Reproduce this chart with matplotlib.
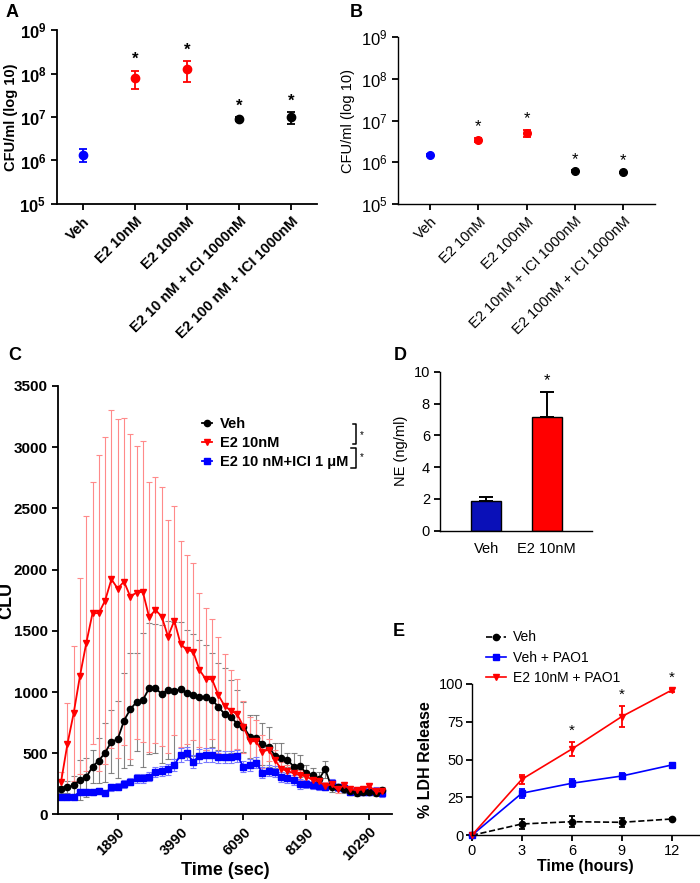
import numpy as np
import matplotlib
matplotlib.use('Agg')
import matplotlib.pyplot as plt
from matplotlib.ticker import NullLocator
from matplotlib.lines import Line2D

plt.rcParams['font.family'] = ['Liberation Sans', 'DejaVu Sans']
plt.rcParams['mathtext.fontset'] = 'custom'
plt.rcParams['mathtext.rm'] = 'Liberation Sans'
plt.rcParams['mathtext.bf'] = 'Liberation Sans:bold'
plt.rcParams['axes.linewidth'] = 1.3
plt.rcParams['xtick.major.width'] = 1.3
plt.rcParams['ytick.major.width'] = 1.3
plt.rcParams['xtick.major.size'] = 4
plt.rcParams['ytick.major.size'] = 4

# ---- panel A / B data: CFU/ml
groups_a = ['Veh', 'E2 10nM', 'E2 100nM', 'E2 10 nM + ICI 1000nM', 'E2 100 nM + ICI 1000nM']
cfu_a = [1.34e6, 7.8e7, 1.25e8, 9.0e6, 9.8e6]
cfu_a_lo = [0.91e6, 4.5e7, 6.3e7, 8.0e6, 6.8e6]
cfu_a_hi = [1.8e6, 1.15e8, 1.9e8, 1.0e7, 1.3e7]

groups_b = ['Veh', 'E2 10nM', 'E2 100nM', 'E2 10nM + ICI 1000nM', 'E2 100nM + ICI 1000nM']
cfu_b = [1.5e6, 3.5e6, 5.0e6, 6.2e5, 5.8e5]
cfu_b_lo = [1.45e6, 3.1e6, 4.1e6, 6.0e5, 5.6e5]
cfu_b_hi = [1.55e6, 3.9e6, 6.0e6, 6.4e5, 6.0e5]

group_colors = ['#0000FF', '#FF0000', '#FF0000', 'black', 'black']
group_star = [False, True, True, True, True]

# ---- panel C data: CLU over time
time_c = np.arange(0, 10711, 210)
veh_c = [206, 222, 238, 282, 304, 391, 440, 505, 595, 614,
         766, 859, 919, 935, 1031, 1031, 984, 1017, 1010, 1023,
         990, 976, 962, 957, 935, 881, 819, 799, 739, 717,
         636, 627, 574, 554, 481, 464, 445, 391, 396, 336,
         323, 288, 370, 222, 222, 204, 188, 173, 180, 180,
         173, 196]
veh_c_sem = [30, 50, 80, 160, 160, 136, 183, 240, 259, 316,
             388, 458, 400, 550, 536, 525, 560, 560, 560, 550,
             520, 500, 464, 428, 382, 354, 375, 300, 278, 205,
             177, 185, 171, 163, 101, 118, 55, 109, 90, 70,
             60, 60, 70, 40, 30, 30, 25, 25, 25, 25,
             25, 25]
e2_c = [268, 574, 827, 1131, 1399, 1644, 1644, 1747, 1921, 1845,
        1902, 1780, 1812, 1818, 1611, 1671, 1616, 1453, 1583, 1393,
        1344, 1330, 1181, 1105, 1105, 976, 886, 848, 819, 717,
        598, 598, 513, 530, 445, 372, 355, 336, 322, 310,
        282, 270, 233, 245, 204, 240, 204, 200, 204, 233,
        188, 188]
e2_c_sem = [80, 340, 550, 800, 1040, 1067, 1290, 1335, 1378, 1384,
            1335, 1326, 1193, 1228, 1100, 1084, 1057, 953, 932, 841,
            771, 722, 631, 580, 492, 477, 425, 333, 286, 213,
            200, 170, 137, 90, 80, 60, 50, 50, 40, 40,
            30, 30, 30, 25, 25, 25, 25, 25, 25, 25,
            25, 25]
ici_c = [146, 146, 146, 187, 187, 182, 190, 173, 222, 227,
         249, 268, 296, 296, 309, 350, 358, 369, 404, 486,
         500, 431, 478, 486, 486, 472, 467, 472, 478, 391,
         404, 423, 342, 358, 350, 309, 296, 282, 249, 249,
         241, 233, 227, 260, 222, 214, 187, 195, 187, 187,
         195, 173]
ici_c_sem = [20, 20, 20, 25, 25, 25, 25, 25, 30, 30,
             30, 30, 35, 35, 35, 40, 40, 45, 50, 55,
             55, 55, 55, 55, 55, 50, 50, 50, 50, 45,
             45, 45, 45, 45, 45, 40, 40, 40, 40, 35,
             35, 35, 30, 30, 30, 30, 30, 30, 30, 30,
             30, 30]
c_ticks = [1890, 3990, 6090, 8190, 10290]

# ---- panel D data: NE
ne_groups = ['Veh', 'E2 10nM']
ne_vals = [1.85, 7.15]
ne_err = [0.27, 1.6]
ne_colors = ['#0A10B8', '#FF0000']

# ---- panel E data: LDH release
hours = [0, 3, 6, 9, 12]
ldh_veh = [0, 7.5, 9.0, 8.6, 10.8]
ldh_veh_err = [0, 3.5, 3.5, 3.0, 0.8]
ldh_pao = [0, 27.8, 34.4, 39.2, 46.5]
ldh_pao_err = [0, 3.0, 2.5, 2.2, 1.0]
ldh_e2 = [0, 37, 57, 78.5, 96]
ldh_e2_err = [0, 3.0, 4.7, 7.0, 1.0]
ldh_star = [False, False, True, True, True]

fig = plt.figure(figsize=(7, 8.83), dpi=100)


def prism(ax):
    ax.spines['top'].set_visible(False)
    ax.spines['right'].set_visible(False)
    ax.tick_params(direction='out')


def cfu_panel(ax, groups, vals, lo, hi, bold, xlim, ms, fs):
    w = 'bold' if bold else 'normal'
    x = np.arange(len(groups))
    for i in range(len(groups)):
        ax.errorbar(x[i], vals[i], yerr=[[vals[i] - lo[i]], [hi[i] - vals[i]]],
                    fmt='o', color=group_colors[i], ms=ms, capsize=3.2,
                    elinewidth=1.3, capthick=1.3)
        if group_star[i]:
            ax.annotate('*', (x[i], hi[i]), xytext=(0, 8), textcoords='offset points',
                        ha='center', va='center', fontsize=12, fontweight=w)
    ax.set_yscale('log')
    ax.set_ylim(1e5, 1e9)
    ax.set_xlim(*xlim)
    ticks = [1e5, 1e6, 1e7, 1e8, 1e9]
    ax.set_yticks(ticks)
    ax.yaxis.set_minor_locator(NullLocator())
    if bold:
        ax.set_yticklabels([r'$\mathbf{10^{%d}}$' % int(np.log10(t)) for t in ticks])
    else:
        ax.set_yticklabels([r'$\mathrm{10^{%d}}$' % int(np.log10(t)) for t in ticks])
    ax.tick_params(axis='y', labelsize=12)
    ax.set_xticks(x)
    ax.set_xticklabels(groups, rotation=45, ha='right', rotation_mode='anchor',
                       fontsize=fs, fontweight=w)
    ax.set_ylabel('CFU/ml (log 10)', fontsize=fs, fontweight=w)
    prism(ax)


# A
axA = fig.add_axes([0.081, 0.769, 0.372, 0.197])
cfu_panel(axA, groups_a, cfu_a, cfu_a_lo, cfu_a_hi, True, (-0.5, 4.5), 6, 10.5)
axA.yaxis.set_label_coords(-0.15, 0.5)

# B
axB = fig.add_axes([0.568, 0.769, 0.368, 0.189])
cfu_panel(axB, groups_b, cfu_b, cfu_b_lo, cfu_b_hi, False, (-0.67, 4.66), 5.5, 10.5)
axB.spines['left'].set_linewidth(1.0)
axB.spines['bottom'].set_linewidth(1.0)

# C
axC = fig.add_axes([0.083, 0.0776, 0.477, 0.4854])
axC.errorbar(time_c, veh_c, yerr=veh_c_sem, fmt='none', ecolor='#6e6e6e',
             elinewidth=0.8, capsize=2.2, capthick=0.8, alpha=0.85)
axC.errorbar(time_c, e2_c, yerr=e2_c_sem, fmt='none', ecolor='#ff8a8a',
             elinewidth=0.8, capsize=2.2, capthick=0.8)
axC.errorbar(time_c, ici_c, yerr=ici_c_sem, fmt='none', ecolor='#7a7aff',
             elinewidth=0.8, capsize=2.2, capthick=0.8)
axC.plot(time_c, ici_c, color='#0000FF', marker='s', ms=3.8, lw=1.3)
axC.plot(time_c, veh_c, color='black', marker='o', ms=4.5, lw=1.3)
axC.plot(time_c, e2_c, color='#FF0000', marker='v', ms=5, lw=1.3)
axC.set_xlim(-100, 11050)
axC.set_ylim(0, 3500)
axC.set_yticks(np.arange(0, 3501, 500))
axC.set_xticks(c_ticks)
axC.set_xticklabels([str(t) for t in c_ticks], rotation=45, ha='right',
                    rotation_mode='anchor', fontsize=10.5, fontweight='bold')
for lab in axC.get_yticklabels():
    lab.set_fontweight('bold')
    lab.set_fontsize(11)
axC.set_xlabel('Time (sec)', fontsize=13, fontweight='bold', va='top')
axC.xaxis.set_label_coords(0.5, -0.11)
axC.set_ylabel('CLU', fontsize=13, fontweight='bold')
axC.yaxis.set_label_coords(-0.128, 0.5)
prism(axC)
hC = [Line2D([], [], color='black', marker='o', ms=4.5, lw=1.3),
      Line2D([], [], color='#FF0000', marker='v', ms=5, lw=1.3),
      Line2D([], [], color='#0000FF', marker='s', ms=3.8, lw=1.3)]
axC.legend(hC, ['Veh', 'E2 10nM', 'E2 10 nM+ICI 1 \u03bcM'], loc='upper left',
           bbox_to_anchor=(0.41, 0.945), frameon=False, handlelength=0.7,
           handletextpad=0.5, labelspacing=0.35, borderpad=0,
           prop={'weight': 'bold', 'size': 10.5})
# significance brackets
for (x0, y0, y1, ys) in [(0.883, 0.911, 0.865, 0.886), (0.877, 0.855, 0.808, 0.834)]:
    axC.plot([x0, 0.892, 0.892, x0], [y0, y0, y1, y1], color='black', lw=1.1,
             transform=axC.transAxes, clip_on=False)
    axC.text(0.905, ys, '*', transform=axC.transAxes, fontsize=7,
             ha='left', va='center')

# D
axD = fig.add_axes([0.629, 0.399, 0.217, 0.180])
xd = np.arange(len(ne_groups))
axD.bar(xd, ne_vals, width=0.5, color=ne_colors, edgecolor='black', linewidth=1.0,
        yerr=[[0, 0], ne_err], capsize=5, error_kw={'elinewidth': 1.4, 'capthick': 1.4})
axD.annotate('*', (xd[1], ne_vals[1] + ne_err[1]), xytext=(0, 8),
             textcoords='offset points', ha='center', va='center', fontsize=12)
axD.set_xlim(-0.76, 1.75)
axD.set_ylim(0, 10)
axD.set_yticks(range(0, 11, 2))
axD.set_xticks(xd)
axD.set_xticklabels(ne_groups, fontsize=10.5)
axD.tick_params(axis='x', length=0, pad=8)
axD.tick_params(axis='y', labelsize=10.5)
axD.set_ylabel('NE (ng/ml)', fontsize=10.5)
axD.spines['left'].set_linewidth(1.0)
axD.spines['bottom'].set_linewidth(1.0)
prism(axD)

# E
axE = fig.add_axes([0.674, 0.054, 0.324, 0.1714])
axE.errorbar(hours, ldh_veh, yerr=ldh_veh_err, color='black', ls='--', marker='o',
             ms=4.5, lw=1.2, capsize=2.5, elinewidth=1.3, capthick=1.3, clip_on=False)
axE.errorbar(hours, ldh_pao, yerr=ldh_pao_err, color='#0000FF', marker='s',
             ms=4, lw=1.2, capsize=2.5, elinewidth=1.3, capthick=1.3, clip_on=False)
axE.errorbar(hours, ldh_e2, yerr=ldh_e2_err, color='#FF0000', marker='v',
             ms=5, lw=1.2, capsize=2.5, elinewidth=1.3, capthick=1.3, clip_on=False)
for h, v, e, s in zip(hours, ldh_e2, ldh_e2_err, ldh_star):
    if s:
        axE.annotate('*', (h, v + e), xytext=(0, 8), textcoords='offset points',
                     ha='center', va='center', fontsize=11)
axE.set_xlim(0, 13.6)
axE.set_ylim(0, 100)
axE.set_xticks(hours)
axE.set_yticks([0, 25, 50, 75, 100])
axE.tick_params(labelsize=10.5, pad=2)
axE.set_xlabel('Time (hours)', fontsize=11.5, fontweight='bold', labelpad=1)
axE.set_ylabel('% LDH Release', fontsize=11.5, fontweight='bold')
axE.spines['left'].set_linewidth(1.0)
axE.spines['bottom'].set_linewidth(1.0)
prism(axE)
hE = [Line2D([], [], color='black', ls='--', marker='o', ms=4.5, lw=1.2),
      Line2D([], [], color='#0000FF', marker='s', ms=4, lw=1.2),
      Line2D([], [], color='#FF0000', marker='v', ms=5, lw=1.2)]
axE.legend(hE, ['Veh', 'Veh + PAO1', 'E2 10nM + PAO1'], loc='upper left',
           bbox_to_anchor=(0.03, 1.40), frameon=False,
           handlelength=1.5, handletextpad=0.5, labelspacing=0.45, borderpad=0,
           fontsize=10)

# panel letters
for lab, x, y in [('A', 0.008, 0.995), ('B', 0.499, 0.995), ('C', 0.012, 0.607),
                  ('D', 0.563, 0.607), ('E', 0.561, 0.295)]:
    fig.text(x, y, lab, fontsize=13, fontweight='bold', va='top', ha='left')

fig.savefig('out.png', dpi=100)
